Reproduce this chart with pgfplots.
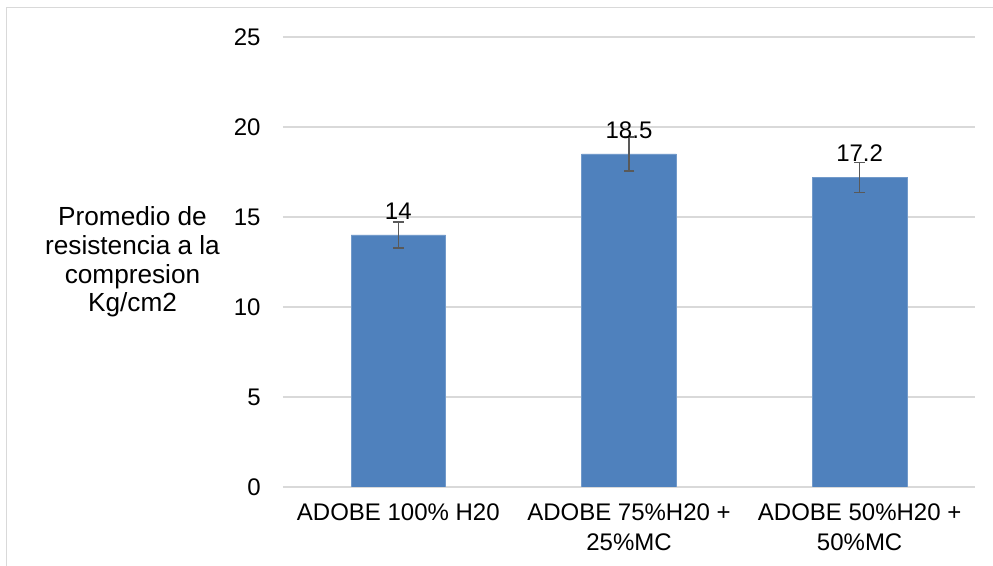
\documentclass[border=0pt]{standalone}
\usepackage{fontspec}
\setmainfont{Liberation Sans}
\usepackage{pgfplots}
\usepackage{pgfplotstable}
\pgfplotsset{compat=1.18}

\definecolor{barblue}{HTML}{4F81BD}
\definecolor{gridgray}{HTML}{D9D9D9}
\definecolor{errgray}{HTML}{595959}

\pgfplotstableread{
x y err label
0 14 0.71 14
1 18.5 0.93 18.5
2 17.2 0.83 17.2
}\adobedata

\begin{document}
\fontsize{12}{15}\selectfont
\begin{tikzpicture}
	\useasboundingbox (0,0) rectangle (496.5pt,-283pt);
	\draw[gridgray, line width=0.7pt] (3.1pt,-283pt) -- (3.1pt,-3.8pt) -- (496.5pt,-3.8pt);
	\begin{axis}[
		at={(141.5pt,-243.5pt)},
		anchor=south west,
		scale only axis,
		width=346pt,
		height=225pt,
		xmin=-0.5, xmax=2.5,
		ymin=0, ymax=25,
		ytick={0,5,...,25},
		xtick=data,
		xticklabels={ADOBE 100\% H20, ADOBE 75\%H20 +\\25\%MC, ADOBE 50\%H20 +\\50\%MC},
		xticklabel style={align=center, font=\fontsize{12}{15}\selectfont, yshift=-4pt},
		yticklabel style={font=\fontsize{12}{15}\selectfont, xshift=-7pt},
		/pgf/number format/assume math mode=true,
		major tick length=0pt,
		ymajorgrids,
		grid style={gridgray, line width=0.7pt},
		axis x line*=bottom,
		axis y line*=left,
		x axis line style={gridgray, line width=0.7pt},
		y axis line style={draw=none},
		ylabel={Promedio de\\resistencia a la\\compresion\\Kg/cm2},
		ylabel style={rotate=-90, at={(axis description cs:-0.2175,0.5)}, anchor=center, align=center, font=\fontsize{13.1}{14.4}\selectfont},
		ybar,
		bar width=0.41,
		point meta=explicit symbolic,
		nodes near coords,
		every node near coord/.append style={anchor=south, yshift=3.5pt, font=\fontsize{12}{15}\selectfont, black},
		]
		\addplot[fill=barblue, draw=barblue!80!white,
			error bars/.cd, y dir=both, y explicit,
			error bar style={errgray, line width=0.8pt},
			error mark options={rotate=90, errgray, mark size=2.7pt, line width=0.8pt}]
			table[x=x, y=y, y error=err, meta=label] {\adobedata};
	\end{axis}
\end{tikzpicture}
\end{document}
